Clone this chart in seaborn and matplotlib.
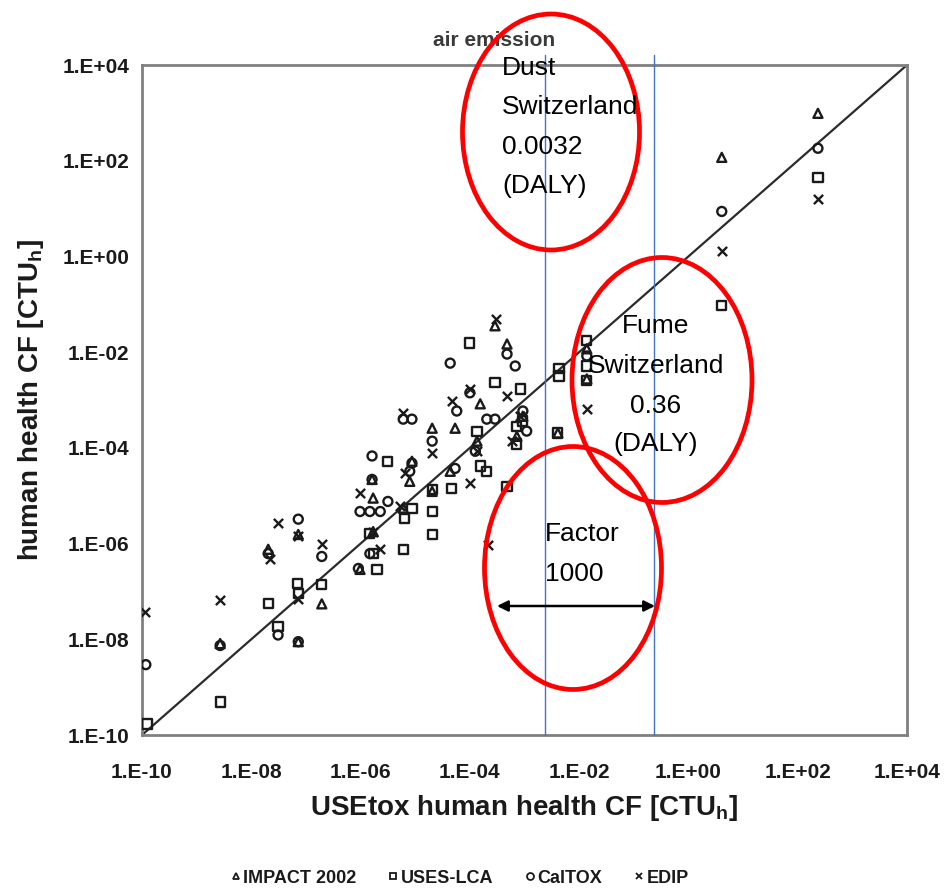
import numpy as np
import pandas as pd
import matplotlib
matplotlib.use("Agg")
import matplotlib.pyplot as plt
import seaborn as sns
from matplotlib.patches import Ellipse, FancyArrowPatch
from matplotlib.lines import Line2D
from matplotlib.ticker import FixedLocator, FuncFormatter, NullLocator

# Characterisation factors (log10 CTUh): USEtox value vs. value from each model
impact_log_usetox = [-8.57, -7.69, -7.14, -6.71, -6.01, -5.77, -5.79, -5.06, -4.69, -4.27,
                     -3.81, -3.32, -3.54, -2.39, -1.86, 0.61, 2.37, -4.69, -7.14, -5.77,
                     -5.22, -3.87, -3.03, -4.36, -1.86, -3.14, -5.10]
impact_log_model = [-8.09, -6.12, -5.81, -7.26, -6.54, -5.05, -4.66, -4.28, -3.59, -3.59,
                    -3.08, -1.83, -1.45, -3.69, -1.93, 2.07, 2.99, -4.91, -8.05, -5.75,
                    -5.26, -3.86, -3.34, -4.49, -2.56, -3.76, -4.70]

uses_log_usetox = [-9.91, -8.57, -7.69, -7.51, -7.16, -7.14, -6.71, -5.70, -5.83, -5.77,
                   -5.22, -5.19, -5.06, -5.50, -4.69, -4.69, -4.69, -4.33, -3.87, -3.81,
                   -3.69, -4.00, -3.54, -3.08, -3.14, -3.14, -3.32, -2.37, -2.37, -1.86,
                   -1.86, -1.86, -2.39, 0.61, 2.37, -3.03]
uses_log_model = [-9.77, -9.31, -7.26, -7.74, -6.84, -7.05, -6.86, -6.54, -5.79, -6.21,
                  -6.12, -5.47, -5.26, -4.28, -4.87, -5.33, -5.81, -4.85, -3.65, -4.38,
                  -4.49, -1.81, -2.64, -2.77, -3.55, -3.92, -4.80, -2.35, -2.50, -1.76,
                  -2.29, -2.60, -3.69, -1.03, 1.65, -3.44]

caltox_log_usetox = [-9.93, -8.57, -7.69, -7.14, -6.71, -7.51, -7.14, -6.01, -5.83, -5.64,
                     -5.50, -5.79, -5.79, -5.83, -5.22, -5.06, -4.69, -5.06, -5.10, -4.36,
                     -4.24, -4.00, -4.27, -3.69, -3.54, -3.32, -3.17, -3.03, -3.90, -1.86,
                     0.61, 2.37, -6.04, -2.96]
caltox_log_model = [-8.53, -8.13, -6.21, -5.49, -6.27, -7.91, -8.05, -5.33, -5.33, -5.33,
                    -5.12, -4.17, -4.66, -6.21, -3.40, -3.40, -3.86, -4.32, -4.49, -2.23,
                    -3.23, -2.85, -4.43, -3.40, -3.40, -2.04, -2.29, -3.23, -4.07, -2.08,
                    0.94, 2.26, -6.52, -3.65]

edip_log_usetox = [-9.95, -8.57, -7.51, -7.66, -7.14, -6.71, -7.14, -6.01, -5.77, -5.22,
                   -5.19, -4.69, -4.33, -4.00, -3.52, -3.32, -4.00, -3.87, -3.67, -1.86,
                   0.61, 2.37, -5.64, -5.28, -3.08, -3.23]
edip_log_model = [-7.42, -7.17, -5.58, -6.33, -5.85, -6.00, -7.15, -4.95, -5.75, -3.27,
                  -4.53, -4.11, -3.02, -2.77, -1.30, -2.92, -4.74, -4.07, -6.04, -3.19,
                  0.12, 1.21, -6.12, -5.22, -3.34, -3.86]

methods = ["IMPACT 2002", "USES-LCA", "CalTOX", "EDIP"]
tick_exponents = [-10, -8, -6, -4, -2, 0, 2, 4]

# Dust / fume reference levels on the USEtox axis (log10)
dust_log_x = -2.62
fume_log_x = -0.63

frames = []
for name, lx, ly in [("IMPACT 2002", impact_log_usetox, impact_log_model),
                     ("USES-LCA", uses_log_usetox, uses_log_model),
                     ("CalTOX", caltox_log_usetox, caltox_log_model),
                     ("EDIP", edip_log_usetox, edip_log_model)]:
    frames.append(pd.DataFrame({"usetox": 10.0 ** np.array(lx),
                                "model": 10.0 ** np.array(ly),
                                "method": name}))
df = pd.concat(frames, ignore_index=True)

sns.set_style("white")
plt.rcParams["font.family"] = ["Liberation Sans", "DejaVu Sans"]
plt.rcParams["mathtext.fontset"] = "custom"
plt.rcParams["mathtext.rm"] = "Liberation Sans"
plt.rcParams["mathtext.bf"] = "Liberation Sans:bold"

W, H = 947, 888
fig = plt.figure(figsize=(W / 100, H / 100), dpi=100)
ax = fig.add_axes([142 / W, 1 - 735 / H, (907 - 142) / W, (735 - 65) / H])


def fx(px):
    return px / W


def fy(py):
    return 1 - py / H


markers = {"IMPACT 2002": "^", "USES-LCA": "s", "CalTOX": "o", "EDIP": "x"}
sizes = {"IMPACT 2002": 42, "USES-LCA": 44, "CalTOX": 42, "EDIP": 44}
for name in methods:
    sub = df[df["method"] == name]
    if markers[name] == "x":
        sns.scatterplot(data=sub, x="usetox", y="model", marker="x", s=sizes[name],
                        color="#1a1a1a", linewidth=1.7, ax=ax, legend=False, zorder=3)
    else:
        sns.scatterplot(data=sub, x="usetox", y="model", marker=markers[name],
                        s=sizes[name], facecolor="none", edgecolor="#1a1a1a",
                        linewidth=1.7, ax=ax, legend=False, zorder=3)

# 1:1 line
ax.plot([1e-10, 1e4], [1e-10, 1e4], color="#2b2b2b", lw=1.6, zorder=2)

ax.set_xscale("log")
ax.set_yscale("log")
ax.set_xlim(1e-10, 1e4)
ax.set_ylim(1e-10, 1e4)
ticks = [10.0 ** e for e in tick_exponents]
fmt = FuncFormatter(lambda v, p: "1.E{:+03d}".format(int(round(np.log10(v)))))
for axis in (ax.xaxis, ax.yaxis):
    axis.set_major_locator(FixedLocator(ticks))
    axis.set_minor_locator(NullLocator())
    axis.set_major_formatter(fmt)

ax.tick_params(axis="both", which="major", direction="out", length=4, width=1.2,
               color="#444444", labelsize=15, labelcolor="#1a1a1a")
ax.tick_params(axis="x", pad=16)
ax.tick_params(axis="y", pad=5)
for lab in ax.get_xticklabels() + ax.get_yticklabels():
    lab.set_fontweight("bold")

for sp in ax.spines.values():
    sp.set_color("#808080")
    sp.set_linewidth(2.0)
    sp.set_visible(True)

ax.set_xlabel(r"USEtox human health CF [CTU$_{\mathbf{h}}$]", fontsize=20,
              fontweight="bold", color="#1a1a1a", labelpad=8)
ax.set_ylabel(r"human health CF [CTU$_{\mathbf{h}}$]", fontsize=20,
              fontweight="bold", color="#1a1a1a", labelpad=12)

fig.text(fx(494), fy(40), "air emission", fontsize=15, fontweight="bold",
         color="#3a3a3a", ha="center", va="center")

# Reference lines for dust and fume
for lx in (dust_log_x, fume_log_x):
    ax.axvline(10.0 ** lx, ymin=0, ymax=(735 - 55) / (735 - 65), color="#4472c4",
               lw=1.0, clip_on=False, zorder=4)

# Highlight ellipses
for cx, cy, w, h in [(551, 132, 177, 236), (662, 380, 180, 245), (573, 568, 177, 243)]:
    fig.add_artist(Ellipse((fx(cx), fy(cy)), w / W, h / H, transform=fig.transFigure,
                           fill=False, edgecolor="#ff0000", lw=3.4, zorder=5))

txt_kw = dict(fontsize=19, color="black", va="baseline", zorder=6)
for s, yb in zip(["Dust", "Switzerland", "0.0032", "(DALY)"], [75, 114, 154, 193]):
    fig.text(fx(502), fy(yb), s, ha="left", **txt_kw)
for s, yb in zip(["Fume", "Switzerland", "0.36", "(DALY)"], [333, 373, 413, 451]):
    fig.text(fx(656), fy(yb), s, ha="center", **txt_kw)
for s, yb in zip(["Factor", "1000"], [541, 581]):
    fig.text(fx(545), fy(yb), s, ha="left", **txt_kw)

fig.add_artist(FancyArrowPatch((fx(497), fy(606)), (fx(655), fy(606)),
                               transform=fig.transFigure, arrowstyle="<|-|>",
                               mutation_scale=16, lw=1.8, color="black",
                               shrinkA=0, shrinkB=0, zorder=6))

handles = []
for name in methods:
    if markers[name] == "x":
        handles.append(Line2D([], [], marker="x", ls="none", color="#1a1a1a",
                              ms=5, mew=1.3, label=name))
    else:
        handles.append(Line2D([], [], marker=markers[name], ls="none",
                              mfc="none", mec="#1a1a1a", ms=5, mew=1.3, label=name))
leg = fig.legend(handles=handles, loc="center", bbox_to_anchor=(fx(460), fy(878)),
                 ncol=4, frameon=False, handlelength=0.5, handletextpad=0.15,
                 columnspacing=1.8, prop={"size": 13, "weight": "bold"})
for t in leg.get_texts():
    t.set_color("#1a1a1a")

fig.savefig("out.png", dpi=100)
